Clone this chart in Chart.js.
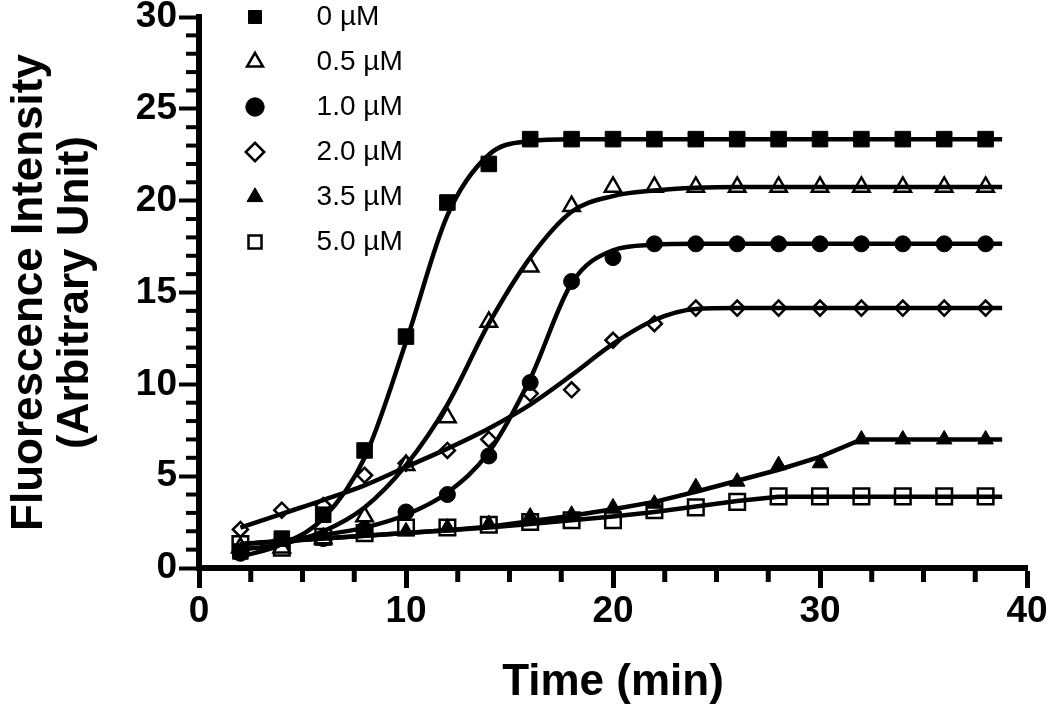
<!DOCTYPE html>
<html><head><meta charset="utf-8">
<script src="https://cdn.jsdelivr.net/npm/chart.js@4.4.1/dist/chart.umd.min.js"></script>
<style>html,body{margin:0;padding:0;background:#fff;}#wrap{width:1050px;height:708px;}</style>
</head><body><div id="wrap"><canvas id="c" width="1050" height="708"></canvas></div>
<script>
// ---- data ----
const timeMin = [2,4,6,8,10,12,14,16,18,20,22,24,26,28,30,32,34,36,38];
const seriesLabels = ['0 µM','0.5 µM','1.0 µM','2.0 µM','3.5 µM','5.0 µM'];
// measured points
const pts0  = [0.9,1.6,2.9,6.4,12.6,19.9,22.0,23.35,23.35,23.35,23.35,23.35,23.35,23.35,23.35,23.35,23.35,23.35,23.35];
const pts05 = [1.1,1.1,1.6,2.8,5.6,8.2,13.4,16.4,19.7,20.75,20.75,20.75,20.75,20.75,20.75,20.75,20.75,20.75,20.75];
const pts1  = [0.8,1.5,1.6,2.1,3.05,4.0,6.1,10.1,15.6,16.9,17.65,17.65,17.65,17.65,17.65,17.65,17.65,17.65,17.65];
const pts2  = [2.1,3.15,3.4,5.05,5.7,6.4,7.0,9.5,9.7,12.4,13.3,14.15,14.15,14.15,14.15,14.15,14.15,14.15,14.15];
const pts35 = [1.2,1.3,1.5,2.0,2.0,2.2,2.4,2.8,2.9,3.3,3.5,4.4,4.7,5.6,5.7,7.0,7.0,7.0,7.0];
const pts5  = [1.3,1.1,1.7,1.9,2.2,2.2,2.35,2.5,2.6,2.6,3.15,3.3,3.6,3.9,3.9,3.9,3.9,3.9,3.9];
// fitted curves
const fitTime = [2,4,6,8,10,12,14,16,18,20,22,24,26,28,30,32,34,36,38,38.8];
const fit0  = [0.6,1.3,2.7,6.0,12.3,19.2,22.5,23.25,23.35,23.35,23.35,23.35,23.35,23.35,23.35,23.35,23.35,23.35,23.35,23.35];
const fit05 = [1.0,1.3,2.0,3.3,5.6,8.9,13.3,16.9,19.4,20.25,20.55,20.7,20.75,20.75,20.75,20.75,20.75,20.75,20.75,20.75];
const fit1  = [1.3,1.5,1.8,2.2,2.9,4.1,6.3,10.3,15.5,17.3,17.6,17.65,17.65,17.65,17.65,17.65,17.65,17.65,17.65,17.65];
const fit2  = [2.2,2.95,3.7,4.5,5.5,6.5,7.6,8.9,10.5,12.2,13.5,14.1,14.15,14.15,14.15,14.15,14.15,14.15,14.15,14.15];
const fit35 = [1.3,1.45,1.6,1.75,1.9,2.05,2.25,2.55,2.85,3.2,3.6,4.15,4.75,5.35,6.05,7.0,7.0,7.0,7.0,7.0];
const fit5  = [1.3,1.45,1.6,1.75,1.9,2.05,2.2,2.4,2.6,2.8,3.05,3.35,3.65,3.88,3.88,3.88,3.88,3.88,3.88,3.88];
// axis ticks
const xTicks = [0,10,20,30,40];
const yTicks = [0,5,10,15,20,25,30];
const xMinorStep = 2.5;
const yMinorStep = 1;

// ---- styling ----
const FONT = "'Liberation Sans', Arial, Helvetica, sans-serif";
const allPts = [pts0, pts05, pts1, pts2, pts35, pts5];
const allFits = [fit0, fit05, fit1, fit2, fit35, fit5];
const markerStyles = [
  {pointStyle:'rect', radius:11, fill:'#000', bw:1},
  {pointStyle:'triangle', radius:9.5, fill:'#fff', bw:2.5},
  {pointStyle:'circle', radius:8, fill:'#000', bw:1},
  {pointStyle:'rectRot', radius:7.5, fill:'#fff', bw:2.5},
  {pointStyle:'triangle', radius:9, fill:'#000', bw:1},
  {pointStyle:'rect', radius:11, fill:'#fff', bw:2.5}
];
const curveTension = [null, null, null, null, 0, 0]; // null -> smooth monotone curve
const toXY = (xs, arr) => xs.map((t,i)=>({x:t, y:arr[i]}));

const datasets = [];
seriesLabels.forEach((lab, i) => {
  const m = markerStyles[i];
  datasets.push({
    label: lab, data: toXY(timeMin, allPts[i]), showLine: false, order: 2,
    pointStyle: m.pointStyle, pointRadius: m.radius, pointHoverRadius: m.radius,
    backgroundColor: m.fill, borderColor: '#000', borderWidth: m.bw,
    pointBackgroundColor: m.fill, pointBorderColor: '#000', pointBorderWidth: m.bw
  });
});
seriesLabels.forEach((lab, i) => {
  const ds = {
    label: lab + ' fit', data: toXY(fitTime, allFits[i]), showLine: true, order: 1,
    pointRadius: 0, pointHoverRadius: 0, borderColor: '#000', borderWidth: 4.5,
    backgroundColor: '#000', fill: false
  };
  if (curveTension[i] === null) ds.cubicInterpolationMode = 'monotone';
  else ds.tension = curveTension[i];
  datasets.push(ds);
});

const minorTicks = {
  id: 'minorTicks',
  afterDraw(chart) {
    const ctx = chart.ctx, xs = chart.scales.x, ys = chart.scales.y;
    ctx.save();
    ctx.strokeStyle = '#000';
    ctx.lineWidth = 5;
    for (let v = xs.min; v <= xs.max + 1e-9; v += xMinorStep) {
      if (xTicks.includes(v)) continue;
      const px = xs.getPixelForValue(v);
      ctx.beginPath(); ctx.moveTo(px, xs.top); ctx.lineTo(px, xs.top + 14); ctx.stroke();
    }
    ctx.lineWidth = 4;
    for (let v = ys.min; v <= ys.max + 1e-9; v += yMinorStep) {
      if (yTicks.includes(v)) continue;
      const py = ys.getPixelForValue(v);
      ctx.beginPath(); ctx.moveTo(ys.right, py); ctx.lineTo(ys.right - 13, py); ctx.stroke();
    }
    ctx.restore();
  }
};
const legendPlace = {
  id: 'legendPlace',
  afterLayout(chart) {
    const lg = chart.legend; if (!lg) return;
    const dx = 224 - lg.left, dy = -14 - lg.top;
    lg.left += dx; lg.right += dx; lg.top += dy; lg.bottom += dy;
  }
};

new Chart(document.getElementById('c'), {
  type: 'scatter',
  data: { datasets },
  options: {
    responsive: false, animation: false, devicePixelRatio: 1,
    layout: { padding: { top: 17, right: 23, left: 0, bottom: 0 } },
    plugins: {
      tooltip: { enabled: false },
      legend: {
        position: 'chartArea', align: 'start',
        labels: {
          usePointStyle: true, boxHeight: 13, padding: 17, color: '#000',
          font: { family: FONT, size: 28 },
          filter: item => item.datasetIndex < seriesLabels.length,
          generateLabels(chart) {
            const items = Chart.defaults.plugins.legend.labels.generateLabels(chart);
            items.forEach(it => { it.text = '\u2003\u2009' + it.text; });
            return items;
          }
        }
      }
    },
    scales: {
      x: {
        type: 'linear', min: 0, max: 40,
        afterBuildTicks(s) { s.ticks = xTicks.map(v => ({ value: v })); },
        afterFit(s) { s.height = 140; s.paddingLeft = 0; s.paddingRight = 0; },
        ticks: { color: '#000', padding: 2, font: { family: FONT, size: 37, weight: 'bold' } },
        grid: { display: true, drawOnChartArea: false, drawTicks: true, tickLength: 20, tickWidth: 5, tickColor: '#000' },
        border: { display: true, width: 6, color: '#000' },
        title: { display: true, text: 'Time (min)', color: '#000', padding: { top: 0, bottom: 2 },
                 font: { family: FONT, size: 44, weight: 'bold', lineHeight: 1.05 } }
      },
      y: {
        type: 'linear', min: 0, max: 30,
        afterBuildTicks(s) { s.ticks = yTicks.map(v => ({ value: v })); },
        afterFit(s) { s.width = 199; s.paddingTop = 0; s.paddingBottom = 0; },
        ticks: { color: '#000', padding: 2, font: { family: FONT, size: 37, weight: 'bold' } },
        grid: { display: true, drawOnChartArea: false, drawTicks: true, tickLength: 20, tickWidth: 4, tickColor: '#000' },
        border: { display: true, width: 6, color: '#000' },
        title: { display: true, text: ['Fluorescence Intensity', '(Arbitrary Unit)'], color: '#000',
                 padding: { top: 7, bottom: 0 },
                 font: { family: FONT, size: 44, weight: 'bold', lineHeight: 1.05 } }
      }
    }
  },
  plugins: [minorTicks, legendPlace]
});
</script></body></html>
